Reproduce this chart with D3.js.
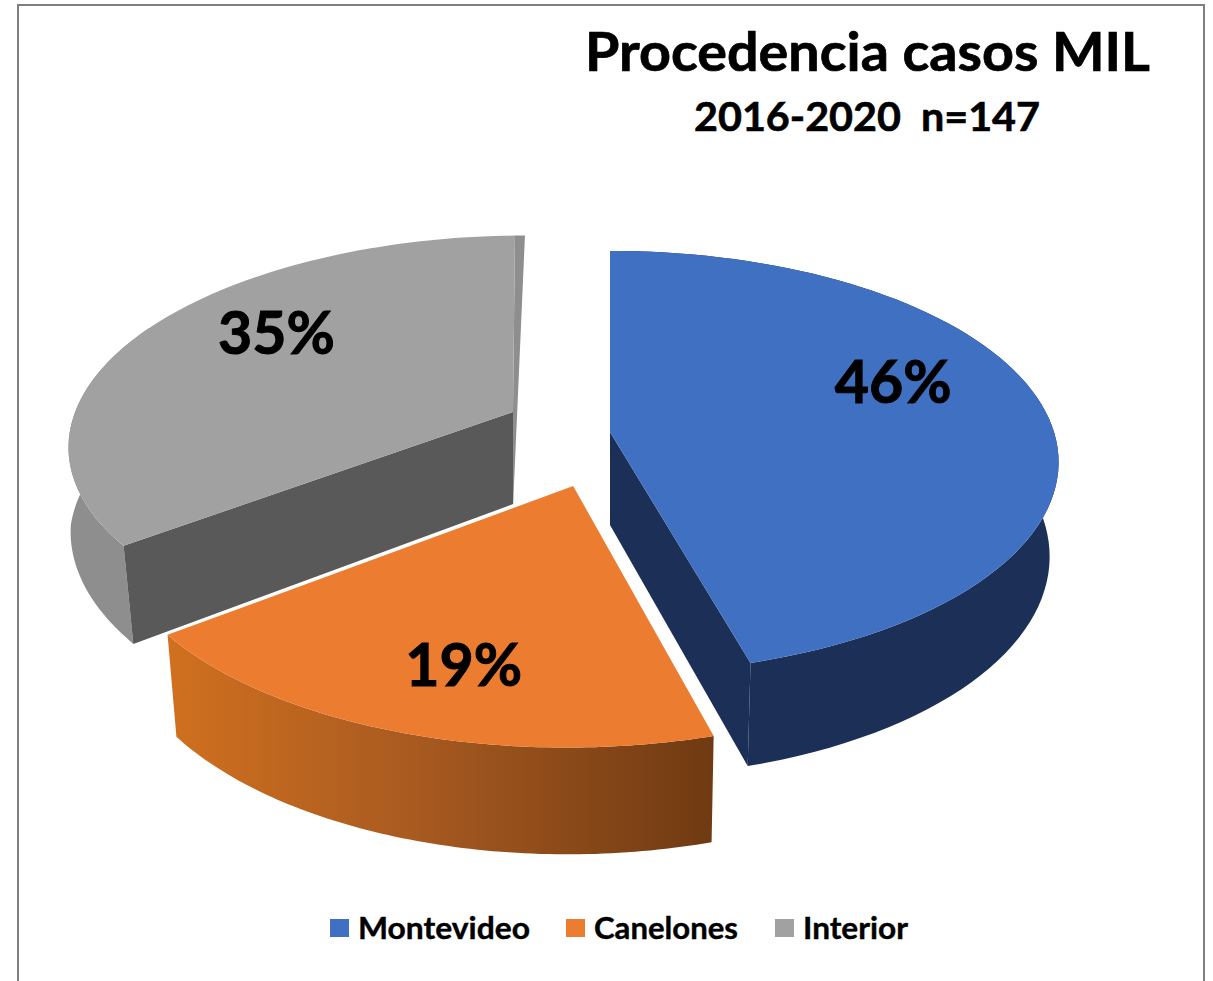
<!DOCTYPE html>
<html>
<head>
<meta charset="utf-8">
<style>
  html, body { margin: 0; padding: 0; background: #fff; }
  text { font-family: Lato, "Open Sans", sans-serif; font-weight: 700; fill: #000; stroke: #000; }
</style>
<script src="https://cdn.jsdelivr.net/npm/d3@7"></script>
</head>
<body>
<div id="chart"></div>
<script>
// data
var categories = ["Montevideo", "Canelones", "Interior"];
var values = [45.6, 19, 35.4];

// slice colours
var topColors = ["#4070c2", "#ec7c30", "#a1a1a1"];
var wallColors = ["#1c2f57", "url(#orangeWall)", "#8e8e8e"];
var faceColors = ["#1c2f57", "none", "#595959"];

// how far each slice was pulled away, in pie radius units
var pulled = [[0, 0], [-0.08, 0.2516], [-0.2216, -0.098]];
// nudge of the percent labels from the slice middle
var labelNudge = [[1, -32], [-2, 27], [5, -24]];

var width = 1213;
var height = 981;

var originX = 610;
var originY = 432;
var radiusX = 444;
var radiusY = 207;
var tilt = 0.143;
var depth = 93;
var cutBack = 0.026; // the grey top stops a little short of its wall

var svg = d3.select("#chart").append("svg")
  .attr("width", width)
  .attr("height", height)
  .style("display", "block");

var defs = svg.append("defs");
var grad = defs.append("linearGradient")
  .attr("id", "orangeWall")
  .attr("gradientUnits", "userSpaceOnUse")
  .attr("x1", 170).attr("y1", 0)
  .attr("x2", 714).attr("y2", 0);
grad.append("stop").attr("offset", "0%").attr("stop-color", "#d0701f");
grad.append("stop").attr("offset", "45%").attr("stop-color", "#a85a20");
grad.append("stop").attr("offset", "100%").attr("stop-color", "#6f3a12");

// frame
svg.append("path")
  .attr("d", "M18," + height + "V5H1204V" + height)
  .attr("fill", "none")
  .attr("stroke", "#7f7f7f")
  .attr("stroke-width", 2);

// lower rim pulls in more toward the front
var shrinkLeft = d3.scaleLinear().domain([0, 0.5]).range([0.998, 0.98]).clamp(true);

// plane point -> screen point, bottom = true for the lower rim
function project(slice, angle, r, bottom) {
  var X = pulled[slice][0] + r * Math.sin(angle);
  var Y = pulled[slice][1] - r * Math.cos(angle);
  var s = 1 / (1 - tilt * Y);
  var x = originX + radiusX * X * s;
  var y = originY + radiusY * Y * s;
  if (bottom) {
    var k = X < 0 ? shrinkLeft(Y) : 0.98;
    x = originX + (x - originX) * k;
    y = y + depth * Math.pow(s, 0.7);
  }
  return [x, y];
}

function arcPoints(slice, a0, a1, bottom) {
  var n = 80;
  return d3.range(n + 1).map(function(i) {
    return project(slice, a0 + (a1 - a0) * i / n, 1, bottom);
  });
}

var line = d3.line().curve(d3.curveLinear);

var arcs = d3.pie().sort(null)(values);

function cutFace(g, i, angle, fill) {
  g.append("path")
    .attr("d", line([
      project(i, angle, 0, false),
      project(i, angle, 1, false),
      project(i, angle, 1, true),
      project(i, angle, 0, true)
    ]) + "Z")
    .attr("fill", fill);
}

function drawSlice(i) {
  var d = arcs[i];
  var g = svg.append("g").attr("class", "slice");

  // outer wall, the grey one only on its visible left part
  var wallEnd = i === 2 ? d.startAngle + (d.endAngle - d.startAngle) * 0.5 : d.endAngle;
  var wall = arcPoints(i, d.startAngle, wallEnd, false)
    .concat(arcPoints(i, d.startAngle, wallEnd, true).reverse());
  g.append("path").attr("d", line(wall) + "Z").attr("fill", wallColors[i]);

  // cut faces
  var topEnd = d.endAngle;
  if (i === 0) {
    cutFace(g, i, d.endAngle, faceColors[i]);
  }
  if (i === 2) {
    topEnd = d.endAngle - cutBack;
    // thin strip on the right hand cut
    g.append("path")
      .attr("d", line([
        project(i, topEnd, 0, false),
        project(i, topEnd, 1, false),
        project(i, d.endAngle, 1, false),
        project(i, d.endAngle, 0, true)
      ]) + "Z")
      .attr("fill", wallColors[i]);
    cutFace(g, i, d.startAngle, faceColors[i]);
  }

  // top
  var top = [project(i, 0, 0, false)].concat(arcPoints(i, d.startAngle, topEnd, false));
  g.append("path").attr("d", line(top) + "Z").attr("fill", topColors[i]);
}

// back to front
drawSlice(2);
drawSlice(0);
drawSlice(1);

// percent labels
arcs.forEach(function(d, i) {
  var mid = (d.startAngle + d.endAngle) / 2;
  var p = project(i, mid, 0.65, false);
  svg.append("text")
    .attr("x", p[0] + labelNudge[i][0])
    .attr("y", p[1] + labelNudge[i][1])
    .attr("dy", "0.36em")
    .attr("text-anchor", "middle")
    .attr("font-size", 59)
    .attr("stroke-width", 1)
    .text(Math.round(d.value) + "%");
});

// title
svg.append("text")
  .attr("x", 585).attr("y", 71)
  .attr("font-size", 53)
  .attr("stroke-width", 0.7)
  .attr("textLength", 565)
  .attr("lengthAdjust", "spacingAndGlyphs")
  .text("Procedencia casos MIL");

svg.append("text")
  .attr("x", 694).attr("y", 131)
  .attr("font-size", 40)
  .attr("stroke-width", 0.6)
  .attr("textLength", 346)
  .attr("lengthAdjust", "spacingAndGlyphs")
  .style("white-space", "pre")
  .text("2016-2020  n=147");

// legend
var legendX = [330, 566, 775];
var legendW = [172, 144, 105];
var color = d3.scaleOrdinal().domain(categories).range(topColors);

categories.forEach(function(name, i) {
  svg.append("rect")
    .attr("x", legendX[i]).attr("y", 919)
    .attr("width", 19).attr("height", 18)
    .attr("fill", color(name));
  svg.append("text")
    .attr("x", legendX[i] + 28).attr("y", 939)
    .attr("font-size", 30)
    .attr("stroke-width", 0.4)
    .attr("textLength", legendW[i])
    .attr("lengthAdjust", "spacingAndGlyphs")
    .text(name);
});
</script>
</body>
</html>
